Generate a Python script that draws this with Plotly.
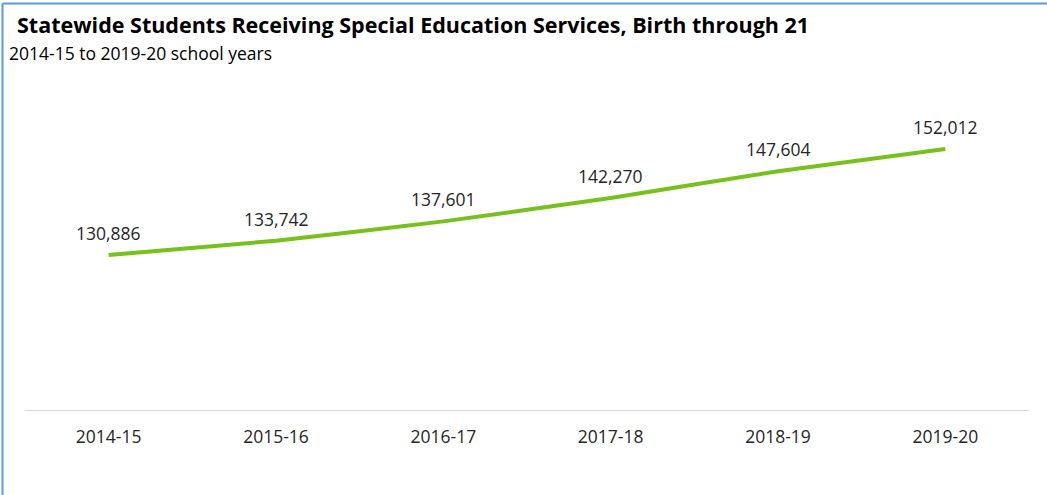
import plotly.graph_objects as go

years = ["2014-15", "2015-16", "2016-17", "2017-18", "2018-19", "2019-20"]
students = [130886, 133742, 137601, 142270, 147604, 152012]

W, H = 1047, 495
ml, mr, mt, mb = 25, 18, 109, 85
pw = W - ml - mr
ph = H - mt - mb

font = "Open Sans, sans-serif"

fig = go.Figure()
fig.add_trace(go.Scatter(
    x=years, y=students, mode="lines",
    line=dict(color="#78c01e", width=4, shape="spline", smoothing=0.4),
    hoverinfo="x+y", showlegend=False,
))

for yr, v in zip(years, students):
    fig.add_annotation(x=yr, y=v, text=f"{v:,}", showarrow=False,
                       yshift=22, font=dict(size=17.5, color="#262626", family=font))

# blue frame along the top and left edges
fx = lambda px: (px - ml) / pw
fy = lambda py: (H - mb - py) / ph
fig.add_shape(type="line", xref="paper", yref="paper",
              x0=fx(2.5), x1=fx(W + 5), y0=fy(3.5), y1=fy(3.5),
              line=dict(color="#5b9bd5", width=2))
fig.add_shape(type="line", xref="paper", yref="paper",
              x0=fx(2.5), x1=fx(2.5), y0=fy(3.5), y1=fy(H + 5),
              line=dict(color="#5b9bd5", width=2))

fig.add_annotation(xref="paper", yref="paper", x=fx(15), y=fy(25),
                   xanchor="left", yanchor="middle", showarrow=False,
                   text="<b>Statewide Students Receiving Special Education Services, Birth through 21</b>",
                   font=dict(size=21.5, color="#000000", family=font))
fig.add_annotation(xref="paper", yref="paper", x=fx(7), y=fy(53),
                   xanchor="left", yanchor="middle", showarrow=False,
                   text="2014-15 to 2019-20 school years",
                   font=dict(size=17.5, color="#000000", family=font))

fig.update_layout(
    width=W, height=H,
    margin=dict(l=ml, r=mr, t=mt, b=mb),
    paper_bgcolor="white", plot_bgcolor="white",
    font=dict(family=font, size=17.5, color="#262626"),
    xaxis=dict(range=[-0.5, 5.5], showgrid=False, showline=True,
               linecolor="#d9d9d9", linewidth=1,
               ticks="", ticklen=0, ticklabelstandoff=11,
               tickfont=dict(size=17.5, color="#262626"),
               zeroline=False, fixedrange=True),
    yaxis=dict(range=[100000, 160000], visible=False, showgrid=False,
               zeroline=False, fixedrange=True),
)

fig.write_html("out.html")
